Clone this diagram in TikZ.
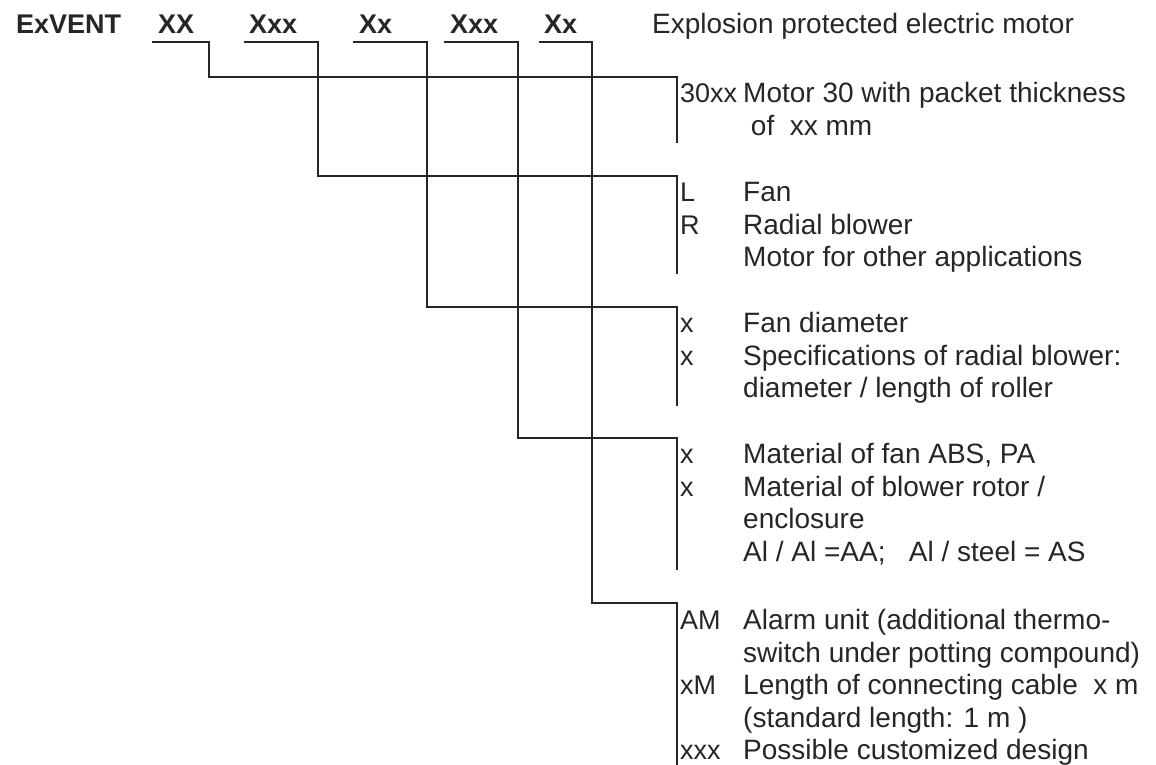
\documentclass[tikz,border=0pt]{standalone}
\usepackage{fontspec}
\setmainfont{Liberation Sans}
\definecolor{ink}{HTML}{262626}
\begin{document}
\begin{tikzpicture}[x=1pt,y=-1pt,
  code/.style={font=\bfseries\fontsize{27}{32}\selectfont, anchor=base west, inner sep=0pt, text=ink},
  hdr/.style={font=\fontsize{28}{32}\selectfont, anchor=base west, inner sep=0pt, text=ink},
  txt/.style={font=\fontsize{28}{32}\selectfont, anchor=mid west, inner sep=0pt, text=ink},
  lbl/.style={font=\fontsize{27}{32}\selectfont, anchor=mid west, inner sep=0pt, text=ink},
  ln/.style={draw=ink, line width=1.8pt, line cap=rect}]
\useasboundingbox (0,0) rectangle (1156,764);
% header
\node[code] (ex) at (16,33) {ExVENT};
\node[code] (c1) at (158,33) {XX};
\node[code] (c2) at (249,33) {Xxx};
\node[code] (c3) at (359,33) {Xx};
\node[code] (c4) at (450,33) {Xxx};
\node[code] (c5) at (544,33) {Xx};
\node[hdr] (title) at (652,33) {Explosion protected electric motor};
% connector points
\coordinate (u1) at (153,42); \coordinate (k1) at (209,77);  \coordinate (b1) at (677,77);  \coordinate (e1) at (677,142);
\coordinate (u2) at (245,42); \coordinate (k2) at (318,176); \coordinate (b2) at (677,176); \coordinate (e2) at (677,273);
\coordinate (u3) at (354,42); \coordinate (k3) at (427,307); \coordinate (b3) at (677,307); \coordinate (e3) at (677,405);
\coordinate (u4) at (445,42); \coordinate (k4) at (518,438); \coordinate (b4) at (677,438); \coordinate (e4) at (677,569);
\coordinate (u5) at (540,42); \coordinate (k5) at (592,603); \coordinate (b5) at (677,603); \coordinate (e5) at (677,764);
\foreach \i in {1,...,5} {\draw[ln] (u\i) -| (k\i) -- (b\i) -- (e\i);}
% block 1
\node[lbl] (l1a) at (680,100) {30xx};
\node[txt] (d1a) at (743,100) {Motor 30 with packet thickness};
\node[txt] (d1b) at (743,132.5) {\ of\ \ xx mm};
% block 2
\node[lbl] (l2a) at (680,199) {L};
\node[txt] (d2a) at (743,199) {Fan};
\node[lbl] (l2b) at (680,231.5) {R};
\node[txt] (d2b) at (743,231.5) {Radial blower};
\node[txt] (d2c) at (743,264) {Motor for other applications};
% block 3
\node[lbl] (l3a) at (680,330) {x};
\node[txt] (d3a) at (743,330) {Fan diameter};
\node[lbl] (l3b) at (680,362.5) {x};
\node[txt] (d3b) at (743,362.5) {Specifications of radial blower:};
\node[txt] (d3c) at (743,395) {diameter / length of roller};
% block 4
\node[lbl] (l4a) at (680,461) {x};
\node[txt] (d4a) at (743,461) {Material of fan ABS, PA};
\node[lbl] (l4b) at (680,493.5) {x};
\node[txt] (d4b) at (743,493.5) {Material of blower rotor /};
\node[txt] (d4c) at (743,526) {enclosure};
\node[txt] (d4d) at (743,558.5) {Al / Al =AA;\ \ \ Al / steel = AS};
% block 5
\node[lbl] (l5a) at (680,627) {AM};
\node[txt] (d5a) at (743,627) {Alarm unit (additional thermo-};
\node[txt] (d5b) at (743,659.5) {switch under potting compound)};
\node[lbl] (l5b) at (680,692) {xM};
\node[txt] (d5c) at (743,692) {Length of connecting cable\ \ x m};
\node[txt] (d5d) at (743,724.5) {(standard length: 1 m )};
\node[lbl] (l5c) at (680,757) {xxx};
\node[txt] (d5e) at (743,757) {Possible customized design};
\end{tikzpicture}
\end{document}
